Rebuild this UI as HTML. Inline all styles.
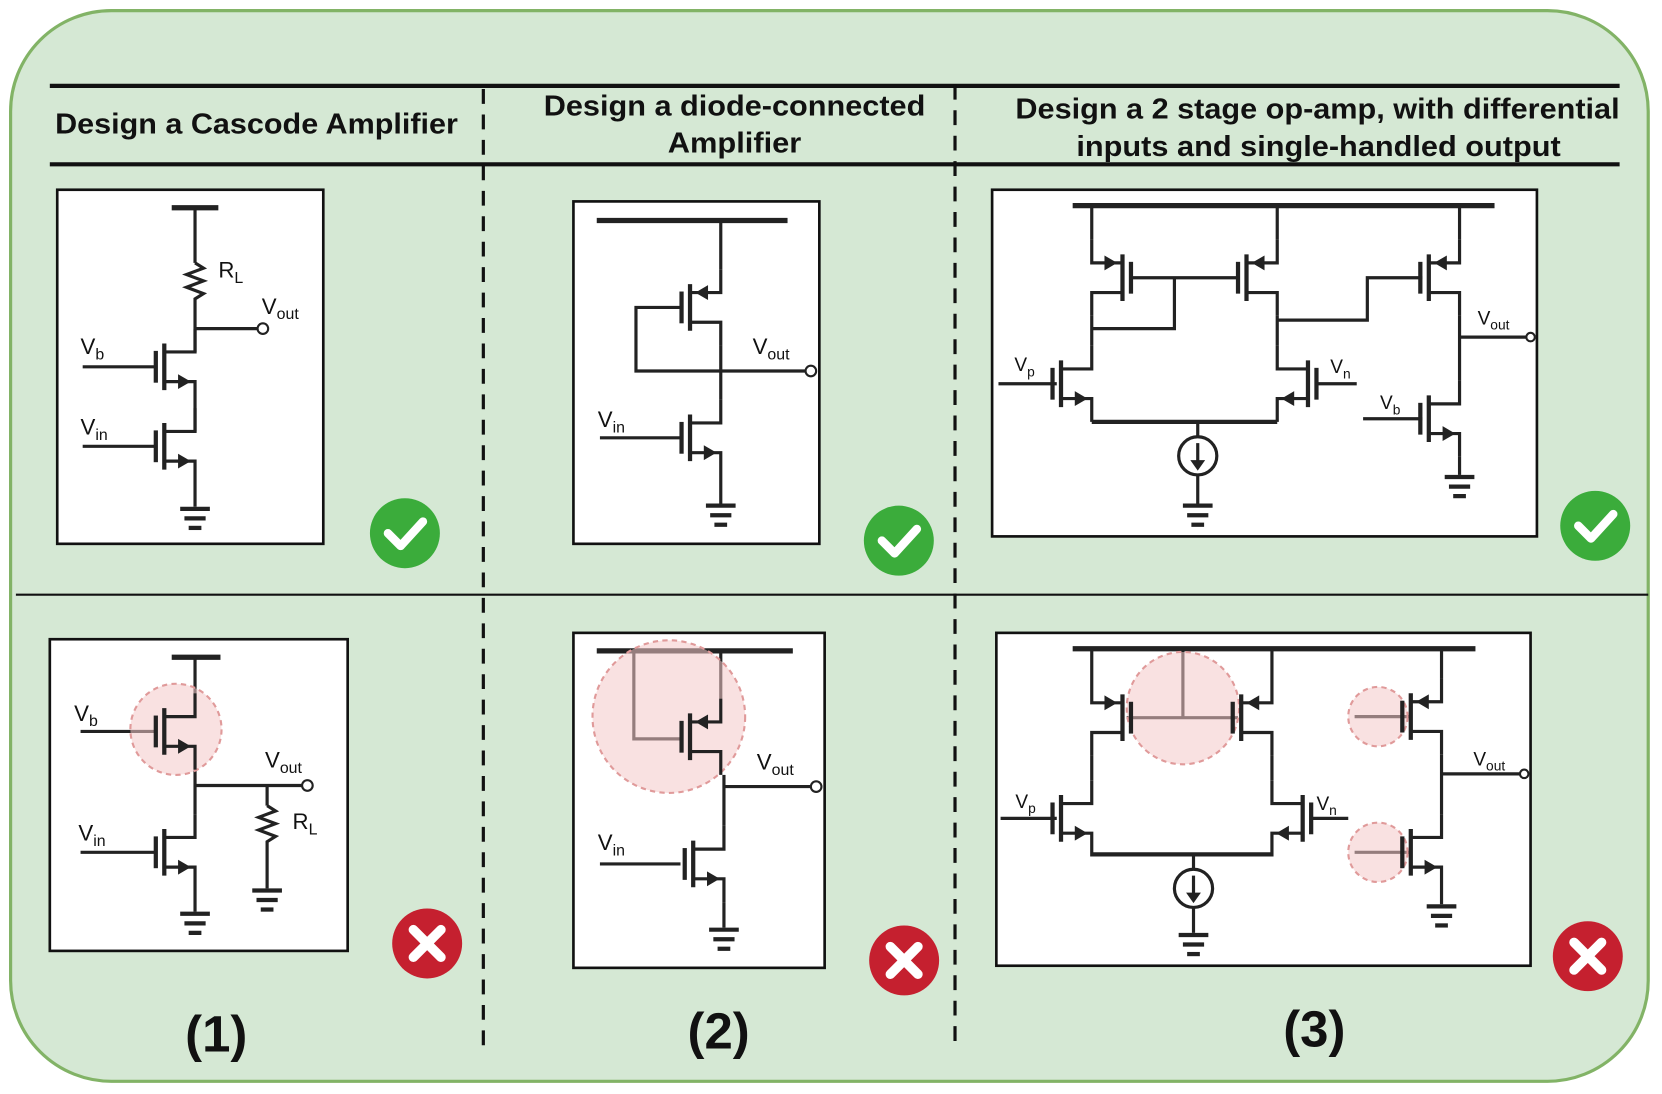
<!DOCTYPE html>
<html><head><meta charset="utf-8"><style>
html,body{margin:0;padding:0;background:#fff;}
svg{display:block;}
text{font-family:"Liberation Sans",sans-serif;fill:#111;}
</style></head><body>
<svg width="1662" height="1094" viewBox="0 0 1568 1032" preserveAspectRatio="none" xmlns="http://www.w3.org/2000/svg">
<defs>
<g id="n" stroke="#222" stroke-width="3" fill="none">
<line x1="-8" y1="-15" x2="-8" y2="15" stroke-width="4"/>
<line x1="0" y1="-22" x2="0" y2="22" stroke-width="4"/>
<polyline points="0,-14 29,-14 29,-36"/>
<polyline points="0,14 29,14 29,36"/>
<path d="M13,7 L25,14 L13,21Z" fill="#222" stroke="none"/>
</g>
<g id="p" stroke="#222" stroke-width="3" fill="none">
<line x1="-8" y1="-15" x2="-8" y2="15" stroke-width="4"/>
<line x1="0" y1="-22" x2="0" y2="22" stroke-width="4"/>
<polyline points="0,-14 29,-14 29,-36"/>
<polyline points="0,14 29,14 29,36"/>
<path d="M17,-21 L5,-14 L17,-7Z" fill="#222" stroke="none"/>
</g>
<g id="gnd" stroke="#222" stroke-width="4">
<line x1="-14" y1="0" x2="14" y2="0"/>
<line x1="-10" y1="9" x2="10" y2="9"/>
<line x1="-6" y1="18" x2="6" y2="18"/>
</g>
<g id="ok"><circle r="33" fill="#3bac3b"/><polyline points="-16,0 -4,12 17,-11" stroke="#fff" stroke-width="8" fill="none" stroke-linecap="round" stroke-linejoin="round"/></g>
<g id="bad"><circle r="33" fill="#c5202f"/><path d="M-13,-13 L13,13 M13,-13 L-13,13" stroke="#fff" stroke-width="9" stroke-linecap="round"/></g>
</defs>

<rect x="10" y="10" width="1545" height="1010" rx="95" fill="#d5e8d4" stroke="#82b366" stroke-width="3"/>

<line x1="47" y1="81" x2="1528" y2="81" stroke="#111" stroke-width="4"/>
<line x1="47" y1="155" x2="1528" y2="155" stroke="#111" stroke-width="4"/>
<line x1="15" y1="561" x2="1555" y2="561" stroke="#111" stroke-width="2"/>
<line x1="456" y1="84" x2="456" y2="992" stroke="#111" stroke-width="3" stroke-dasharray="14,10"/>
<line x1="901" y1="80" x2="901" y2="992" stroke="#111" stroke-width="3" stroke-dasharray="14,10"/>
<g font-weight="bold" font-size="27" text-anchor="middle">
<text x="242" y="126" textLength="380" lengthAdjust="spacingAndGlyphs">Design a Cascode Amplifier</text>
<text x="693" y="109" textLength="360" lengthAdjust="spacingAndGlyphs">Design a diode-connected</text>
<text x="693" y="144" textLength="126" lengthAdjust="spacingAndGlyphs">Amplifier</text>
<text x="1243" y="112" textLength="570" lengthAdjust="spacingAndGlyphs">Design a 2 stage op-amp, with differential</text>
<text x="1244" y="147" textLength="457" lengthAdjust="spacingAndGlyphs">inputs and single-handled output</text>
</g>
<g font-weight="bold" font-size="48" text-anchor="middle">
<text x="204" y="992">(1)</text>
<text x="678" y="989">(2)</text>
<text x="1240" y="987">(3)</text>
</g>

<g fill="#fff" stroke="#111" stroke-width="2.5">
<rect x="54" y="179" width="251" height="334"/>
<rect x="541" y="190" width="232" height="323"/>
<rect x="936" y="179" width="514" height="327"/>
<rect x="47" y="603" width="281" height="294"/>
<rect x="541" y="597" width="237" height="316"/>
<rect x="940" y="597" width="504" height="314"/>
</g>

<g stroke="#222" stroke-width="3" fill="none">
<line x1="162" y1="196" x2="206" y2="196" stroke-width="5"/>
<line x1="184" y1="196" x2="184" y2="248"/>
<polyline points="184,248 192,253 176,259 192,265 176,271 192,277 184,282 184,310"/>
<line x1="184" y1="310" x2="244" y2="310"/>
<line x1="184" y1="310" x2="184" y2="332"/>
<line x1="78" y1="346" x2="147" y2="346"/>
<line x1="184" y1="382" x2="184" y2="407"/>
<line x1="78" y1="421" x2="147" y2="421"/>
<line x1="184" y1="457" x2="184" y2="478"/>
<line x1="563" y1="208" x2="743" y2="208" stroke-width="5"/>
<line x1="680" y1="208" x2="680" y2="254"/>
<polyline points="642,290 600,290 600,350 761,350"/>
<line x1="680" y1="326" x2="680" y2="377"/>
<line x1="566" y1="413" x2="642" y2="413"/>
<line x1="680" y1="449" x2="680" y2="475"/>
<line x1="1012" y1="194" x2="1410" y2="194" stroke-width="5"/>
<line x1="1030" y1="194" x2="1030" y2="226"/>
<line x1="1205" y1="194" x2="1205" y2="226"/>
<line x1="1377" y1="194" x2="1377" y2="226"/>
<line x1="1067" y1="262" x2="1167" y2="262"/>
<polyline points="1108,262 1108,310 1030,310"/>
<line x1="1030" y1="298" x2="1030" y2="326"/>
<line x1="1205" y1="298" x2="1205" y2="326"/>
<polyline points="1205,302 1290,302 1290,262 1342,262"/>
<line x1="942" y1="362" x2="997" y2="362"/>
<line x1="1243" y1="362" x2="1280" y2="362"/>
<line x1="1030" y1="398" x2="1205" y2="398" stroke-width="4"/>
<line x1="1130" y1="398" x2="1130" y2="412"/>
<line x1="1130" y1="448" x2="1130" y2="475"/>
<line x1="1377" y1="298" x2="1377" y2="359"/>
<line x1="1377" y1="318" x2="1441" y2="318"/>
<line x1="1286" y1="395" x2="1342" y2="395"/>
<line x1="1377" y1="431" x2="1377" y2="448"/>
<line x1="162" y1="620" x2="208" y2="620" stroke-width="5"/>
<line x1="184" y1="620" x2="184" y2="654"/>
<line x1="76" y1="690" x2="147" y2="690"/>
<line x1="184" y1="726" x2="184" y2="768"/>
<line x1="184" y1="741" x2="286" y2="741"/>
<line x1="252" y1="741" x2="252" y2="760"/>
<polyline points="252,760 260,765 244,771 260,777 244,783 260,789 252,794 252,838"/>
<line x1="76" y1="804" x2="147" y2="804"/>
<line x1="184" y1="840" x2="184" y2="860"/>
<line x1="563" y1="614" x2="748" y2="614" stroke-width="5"/>
<line x1="680" y1="614" x2="680" y2="659"/>
<polyline points="598,614 598,697 642,697"/>
<line x1="683" y1="731" x2="683" y2="779"/>
<line x1="683" y1="742" x2="766" y2="742"/>
<line x1="566" y1="815" x2="642" y2="815"/>
<line x1="683" y1="851" x2="683" y2="875"/>
<line x1="1012" y1="612" x2="1392" y2="612" stroke-width="5"/>
<line x1="1030" y1="612" x2="1030" y2="641"/>
<line x1="1200" y1="612" x2="1200" y2="641"/>
<line x1="1360" y1="612" x2="1360" y2="640"/>
<line x1="1063" y1="677" x2="1168" y2="677"/>
<line x1="1116" y1="612" x2="1116" y2="677"/>
<line x1="1030" y1="713" x2="1030" y2="736"/>
<line x1="1200" y1="713" x2="1200" y2="736"/>
<line x1="944" y1="772" x2="997" y2="772"/>
<line x1="1236" y1="772" x2="1272" y2="772"/>
<line x1="1030" y1="806" x2="1200" y2="806" stroke-width="4"/>
<line x1="1126" y1="806" x2="1126" y2="820"/>
<line x1="1126" y1="856" x2="1126" y2="880"/>
<line x1="1360" y1="712" x2="1360" y2="768"/>
<line x1="1360" y1="730" x2="1434" y2="730"/>
<line x1="1278" y1="676" x2="1330" y2="676"/>
<line x1="1278" y1="804" x2="1330" y2="804"/>
<line x1="1360" y1="840" x2="1360" y2="853"/>
</g>

<g fill="#f4c9c9" fill-opacity="0.55" stroke="#e09a9a" stroke-width="2" stroke-dasharray="5,4">
<circle cx="166" cy="688" r="43"/>
<circle cx="631" cy="676" r="72"/>
<circle cx="1116" cy="668" r="53"/>
<circle cx="1300" cy="676" r="28"/>
<circle cx="1300" cy="804" r="28"/>
</g>

<use href="#n" x="155" y="346"/>
<use href="#n" x="155" y="421"/>
<use href="#p" x="651" y="290"/>
<use href="#n" x="651" y="413"/>
<use href="#p" transform="translate(1059,262) scale(-1,1)"/>
<use href="#p" x="1176" y="262"/>
<use href="#p" x="1348" y="262"/>
<use href="#n" x="1001" y="362"/>
<use href="#n" transform="translate(1234,362) scale(-1,1)"/>
<use href="#n" x="1348" y="395"/>
<use href="#n" x="155" y="690"/>
<use href="#n" x="155" y="804"/>
<use href="#p" x="651" y="695"/>
<use href="#n" x="654" y="815"/>
<use href="#p" transform="translate(1059,677) scale(-1,1)"/>
<use href="#p" x="1171" y="677"/>
<use href="#n" x="1001" y="772"/>
<use href="#n" transform="translate(1229,772) scale(-1,1)"/>
<use href="#p" x="1331" y="676"/>
<use href="#n" x="1331" y="804"/>

<g stroke="#222" stroke-width="3" fill="#fff">
<circle cx="1130" cy="430" r="18"/>
<circle cx="1126" cy="838" r="18"/>
</g>
<g stroke="#222" stroke-width="3">
<line x1="1130" y1="418" x2="1130" y2="436"/><line x1="1126" y1="826" x2="1126" y2="844"/>
</g>
<path d="M1123,434 L1137,434 L1130,444Z M1119,842 L1133,842 L1126,852Z" fill="#222"/>

<use href="#gnd" x="184" y="480"/>
<use href="#gnd" x="680" y="477"/>
<use href="#gnd" x="1130" y="477"/>
<use href="#gnd" x="1377" y="450"/>
<use href="#gnd" x="184" y="862"/>
<use href="#gnd" x="252" y="840"/>
<use href="#gnd" x="683" y="877"/>
<use href="#gnd" x="1126" y="882"/>
<use href="#gnd" x="1360" y="855"/>

<g fill="#fff" stroke="#222" stroke-width="2">
<circle cx="248" cy="310" r="5"/>
<circle cx="765" cy="350" r="5"/>
<circle cx="1444" cy="318" r="4"/>
<circle cx="290" cy="741" r="5"/>
<circle cx="770" cy="742" r="5"/>
<circle cx="1438" cy="730" r="4"/>
</g>

<g font-size="21">
<text x="206" y="262">R<tspan font-size="15" dy="5">L</tspan></text>
<text x="247" y="296">V<tspan font-size="15" dy="5">out</tspan></text>
<text x="76" y="334">V<tspan font-size="15" dy="5">b</tspan></text>
<text x="76" y="410">V<tspan font-size="15" dy="5">in</tspan></text>
<text x="710" y="334">V<tspan font-size="15" dy="5">out</tspan></text>
<text x="564" y="403">V<tspan font-size="15" dy="5">in</tspan></text>
<text x="957" y="350" font-size="18">V<tspan font-size="13" dy="5">p</tspan></text>
<text x="1255" y="352" font-size="18">V<tspan font-size="13" dy="5">n</tspan></text>
<text x="1394" y="306" font-size="18">V<tspan font-size="13" dy="5">out</tspan></text>
<text x="1302" y="386" font-size="18">V<tspan font-size="13" dy="5">b</tspan></text>
<text x="70" y="680">V<tspan font-size="15" dy="5">b</tspan></text>
<text x="250" y="724">V<tspan font-size="15" dy="5">out</tspan></text>
<text x="276" y="782">R<tspan font-size="15" dy="5">L</tspan></text>
<text x="74" y="793">V<tspan font-size="15" dy="5">in</tspan></text>
<text x="714" y="726">V<tspan font-size="15" dy="5">out</tspan></text>
<text x="564" y="802">V<tspan font-size="15" dy="5">in</tspan></text>
<text x="958" y="762" font-size="18">V<tspan font-size="13" dy="5">p</tspan></text>
<text x="1242" y="764" font-size="18">V<tspan font-size="13" dy="5">n</tspan></text>
<text x="1390" y="722" font-size="18">V<tspan font-size="13" dy="5">out</tspan></text>
</g>

<use href="#ok" x="382" y="503"/>
<use href="#ok" x="848" y="510"/>
<use href="#ok" x="1505" y="496"/>
<use href="#bad" x="403" y="890"/>
<use href="#bad" x="853" y="906"/>
<use href="#bad" x="1498" y="902"/>
</svg>
</body></html>
